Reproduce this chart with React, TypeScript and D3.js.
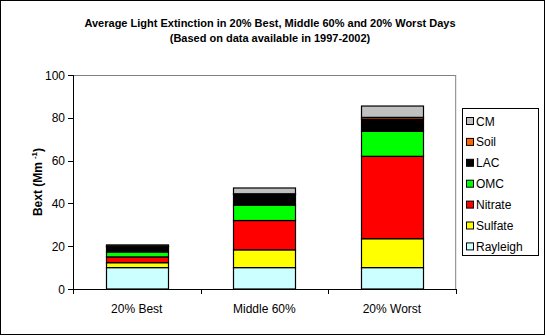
import React from "react";
import * as d3 from "d3";

const categories = ["20% Best", "Middle 60%", "20% Worst"];
const seriesNames = ["Rayleigh", "Sulfate", "Nitrate", "OMC", "LAC", "Soil", "CM"];
const rayleigh = [10, 10, 10];
const sulfate = [2.3, 8.3, 13.5];
const nitrate = [2.7, 13.7, 38.5];
const omc = [2.3, 7.2, 11.7];
const lac = [2.5, 5.0, 5.7];
const soil = [0.2, 0.3, 0.8];
const cm = [0.6, 2.7, 5.3];
const yTicks = [0, 20, 40, 60, 80, 100];
const colors = ["#CCFFFF", "#FFFF00", "#FF0000", "#00FF00", "#000000", "#FF6600", "#C0C0C0"];

const W = 546;
const H = 336;
const plot = { left: 73, right: 455.7, top: 75, bottom: 289 };

export default function App() {
  const values = [rayleigh, sulfate, nitrate, omc, lac, soil, cm];
  const rows = categories.map((c, i) => {
    const r: any = { cat: c };
    seriesNames.forEach((s, j) => (r[s] = values[j][i]));
    return r;
  });
  const stack = d3.stack().keys(seriesNames)(rows);
  const p = 0.514;
  const x = d3
    .scaleBand<string>()
    .domain(categories)
    .range([plot.left, plot.right])
    .paddingInner(p)
    .paddingOuter(p / 2);
  const y = d3.scaleLinear().domain([0, 100]).range([plot.bottom, plot.top]);
  const step = x.step();
  const font = "'Liberation Sans', Arial, sans-serif";
  const legendX = 462;
  const legendY = 108;
  const rowH = 20.9;

  return (
    <svg width={W} height={H} style={{ position: "absolute", left: 0, top: 0 }} fontFamily={font}>
      <rect x={0} y={0} width={W} height={H} fill="white" />
      <rect x={0.5} y={0.5} width={544} height={334} fill="white" stroke="black" strokeWidth={1} />
      <text x={270} y={27} textAnchor="middle" fontSize={11} fontWeight="bold">
        Average Light Extinction in 20% Best, Middle 60% and 20% Worst Days
      </text>
      <text x={270} y={42} textAnchor="middle" fontSize={11} fontWeight="bold">
        (Based on data available in 1997-2002)
      </text>
      {/* plot frame */}
      <line x1={plot.left} x2={plot.right} y1={plot.top + 0.5} y2={plot.top + 0.5} stroke="#808080" />
      <line x1={plot.right} x2={plot.right} y1={plot.top} y2={plot.bottom} stroke="#808080" />
      {/* bars */}
      {stack.map((layer, j) =>
        layer.map((d, i) => (
          <rect
            key={`${j}-${i}`}
            x={Math.round(x(categories[i])!) + 0.5}
            y={y(d[1])}
            width={Math.round(x.bandwidth())}
            height={y(d[0]) - y(d[1])}
            fill={colors[j]}
            stroke="black"
            strokeWidth={1.2}
          />
        ))
      )}
      {/* y axis */}
      <line x1={plot.left + 0.5} x2={plot.left + 0.5} y1={plot.top} y2={plot.bottom} stroke="black" />
      {yTicks.map((t) => (
        <g key={t}>
          <line x1={plot.left - 5} x2={plot.left} y1={Math.round(y(t)) + 0.5} y2={Math.round(y(t)) + 0.5} stroke="black" />
          <text x={plot.left - 8} y={y(t) + 4.5} textAnchor="end" fontSize={12}>
            {t}
          </text>
        </g>
      ))}
      {/* x axis */}
      <line x1={plot.left} x2={plot.right + 0.5} y1={plot.bottom + 0.5} y2={plot.bottom + 0.5} stroke="black" />
      {[0, 1, 2, 3].map((k) => (
        <line
          key={k}
          x1={Math.round(plot.left + k * step) + 0.5}
          x2={Math.round(plot.left + k * step) + 0.5}
          y1={plot.bottom}
          y2={plot.bottom + 5}
          stroke="black"
        />
      ))}
      {categories.map((c) => (
        <text key={c} x={x(c)! + x.bandwidth() / 2} y={313} textAnchor="middle" fontSize={12}>
          {c}
        </text>
      ))}
      {/* y axis title */}
      <text
        transform={`translate(42, ${(plot.top + plot.bottom) / 2}) rotate(-90)`}
        textAnchor="middle"
        fontSize={12}
        fontWeight="bold"
      >
        Bext (Mm
        <tspan dx={3} dy={-5} fontSize={8}>-1</tspan>
        <tspan dy={5}>)</tspan>
      </text>
      {/* legend */}
      <rect x={legendX + 0.5} y={legendY + 0.5} width={76} height={147} fill="white" stroke="black" />
      {seriesNames
        .slice()
        .reverse()
        .map((s, k) => {
          const j = seriesNames.length - 1 - k;
          const cy = legendY + 13 + k * rowH;
          return (
            <g key={s}>
              <rect x={466.5} y={cy - 3.5} width={7} height={7} fill={colors[j]} stroke="#000" strokeWidth={1} />
              <text x={476} y={cy + 4.5} fontSize={12}>
                {s}
              </text>
            </g>
          );
        })}
    </svg>
  );
}
